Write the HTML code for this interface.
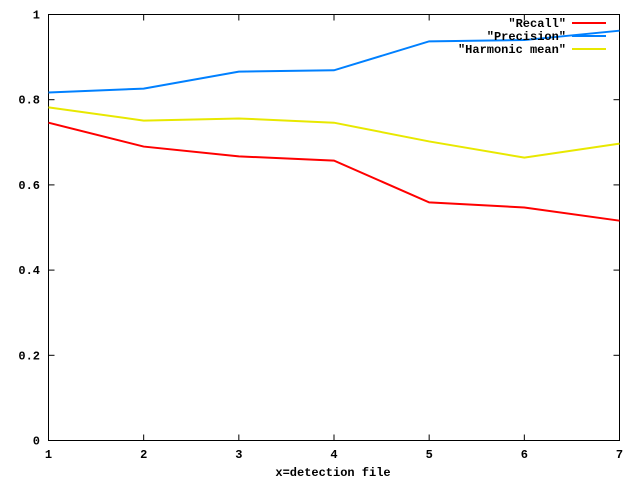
<!DOCTYPE html>
<html><head><meta charset="utf-8"><style>
body{margin:0;background:#fff}
svg text{font-family:"Liberation Mono",monospace;font-size:12px;font-weight:bold;fill:#000}
</style></head><body>
<svg id="chart" width="640" height="480" xmlns="http://www.w3.org/2000/svg">
<rect x="48.5" y="14.5" width="571" height="426" fill="none" stroke="#000" stroke-width="1"/>
<g id="ticks"></g><g id="series"></g><g id="legend"></g>
<text x="333" y="476" text-anchor="middle">x=detection file</text>
</svg>
<script>
const categories=[1,2,3,4,5,6,7];
const recall=[0.746,0.690,0.667,0.657,0.559,0.547,0.516];
const precision=[0.817,0.826,0.866,0.869,0.937,0.940,0.962];
const harmonic=[0.782,0.751,0.756,0.746,0.702,0.664,0.697];
const yTicks=[0,0.2,0.4,0.6,0.8,1];
const yTickLabels=["0","0.2","0.4","0.6","0.8","1"];
const seriesNames=['"Recall"','"Precision"','"Harmonic mean"'];
const NS="http://www.w3.org/2000/svg";
const X0=48.5,X1=619.5,Y0=440.5,Y1=14.5;
function xs(v){return X0+(v-1)/6*(X1-X0);}
function ys(v){return Y0-v*(Y0-Y1);}
function mk(t,a,p){const e=document.createElementNS(NS,t);for(const k in a)e.setAttribute(k,a[k]);p.appendChild(e);return e;}
const tg=document.getElementById('ticks');
yTicks.forEach((v,i)=>{
  const y=ys(v);
  const l=mk('line',{x1:X0,x2:X0+6,y1:y,y2:y,stroke:'#000'},tg);
  
  
  const l2=mk('line',{x1:X1-6,x2:X1,y1:y,y2:y,stroke:'#000'},tg);
  
  
  const t=mk('text',{x:40,y:y+4,'text-anchor':'end'},tg);t.textContent=yTickLabels[i];
  
  
});
categories.forEach(c=>{
  const x=xs(c);
  const l=mk('line',{x1:x,x2:x,y1:Y0,y2:Y0-6,stroke:'#000'},tg);
  
  
  const l2=mk('line',{x1:x,x2:x,y1:Y1,y2:Y1+6,stroke:'#000'},tg);
  
  
  const t=mk('text',{x:x,y:458,'text-anchor':'middle'},tg);t.textContent=String(c);
  
  
});
const sg=document.getElementById('series'),lg=document.getElementById('legend');
const data=[recall,precision,harmonic],colors=['#ff0000','#0080ff','#e8e800'],names=['recall-line','precision-line','harmonic-mean-line'];
data.forEach((d,i)=>{
  const p=mk('polyline',{points:d.map((v,j)=>xs(categories[j])+','+ys(v)).join(' '),fill:'none',stroke:colors[i],'stroke-width':2},sg);
  
  
  const y=23+i*13;
  const t=mk('text',{x:566,y:y+4,'text-anchor':'end'},lg);t.textContent=seriesNames[i];
  
  
  const l=mk('line',{x1:572,x2:606,y1:y,y2:y,stroke:colors[i],'stroke-width':2},lg);
  
  
});
</script>
</body></html>
